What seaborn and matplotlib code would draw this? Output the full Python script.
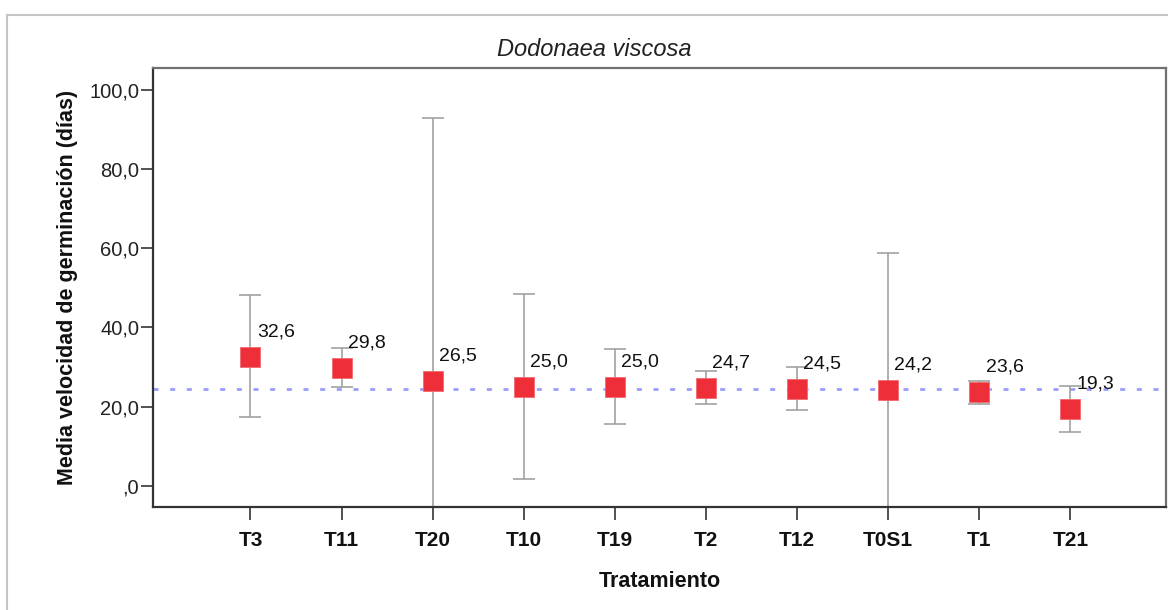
import matplotlib
matplotlib.use("Agg")
import matplotlib.pyplot as plt
import seaborn as sns
import pandas as pd
from matplotlib.patches import Rectangle
from matplotlib.ticker import FuncFormatter

# ---- data ----
tratamientos = ["T3", "T11", "T20", "T10", "T19", "T2", "T12", "T0S1", "T1", "T21"]
medias = [32.6, 29.8, 26.5, 25.0, 25.0, 24.7, 24.5, 24.2, 23.6, 19.3]
ic_inf = [17.3, 25.0, -40.0, 1.6, 15.6, 20.6, 19.1, -10.5, 20.6, 13.6]
ic_sup = [48.1, 34.9, 93.0, 48.5, 34.5, 29.0, 30.0, 58.9, 26.5, 25.2]
media_global = 24.4
y_ticks = [0, 20, 40, 60, 80, 100]

sns.set_theme(style="white")
plt.rcParams["font.family"] = ["Liberation Sans", "DejaVu Sans"]

df = pd.DataFrame({"Tratamiento": tratamientos, "Media": medias,
                   "lo": ic_inf, "hi": ic_sup})

fig = plt.figure(figsize=(11.68, 6.10), dpi=100)
ax = fig.add_axes([153 / 1168, 1 - 507 / 610, (1166 - 153) / 1168, (507 - 68) / 610])

# outer light frame
fig.patches.append(Rectangle((7 / 1168, -0.1), 1.2, 1 - 15 / 610 + 0.1,
                             transform=fig.transFigure, fill=False,
                             edgecolor="#c4c4c4", lw=1.5))

# reference line
ax.axhline(media_global, color="#9a9cff", lw=2.0, dashes=(1.8, 4.2), zorder=1)

# error bars
ax.errorbar(df["Tratamiento"], df["Media"],
            yerr=[df["Media"] - df["lo"], df["hi"] - df["Media"]],
            fmt="none", ecolor="#9a9a9a", elinewidth=1.1, capsize=8,
            capthick=1.1, zorder=2)

# markers
sns.scatterplot(data=df, x="Tratamiento", y="Media", marker="s", s=225,
                color="#ee2e38", edgecolor="#f26a70", linewidth=0.6,
                ax=ax, zorder=3, legend=False)

# value labels
for t, m in zip(df["Tratamiento"], df["Media"]):
    ax.annotate(f"{m:.1f}".replace(".", ","), xy=(t, m),
                xytext=(4.5, 18), textcoords="offset points",
                ha="left", va="center", fontsize=14, color="#111111")

ax.set_xlim(-1.07, 10.05)
ax.set_ylim(-5.4, 105.6)
ax.set_yticks(y_ticks)
ax.yaxis.set_major_formatter(FuncFormatter(
    lambda v, p: (f"{v:.1f}".replace(".", ",")) if v != 0 else ",0"))

ax.tick_params(axis="y", which="major", left=True, length=9, width=1.2,
               color="#333333", pad=1, labelsize=14.5, labelcolor="#222222")
ax.tick_params(axis="x", which="major", bottom=True, length=9, width=1.2,
               color="#333333", pad=8.5, labelsize=15, labelcolor="#111111")
for lab in ax.get_xticklabels():
    lab.set_fontweight("bold")

ax.set_xlabel("Tratamiento", fontsize=15.5, fontweight="bold", labelpad=15,
              color="#111111")
ax.set_ylabel("Media velocidad de germinación (días)", fontsize=15.5,
              fontweight="bold", color="#111111", labelpad=8)

for side in ["left", "bottom"]:
    ax.spines[side].set_color("#333333")
    ax.spines[side].set_linewidth(1.6)
for side in ["top", "right"]:
    ax.spines[side].set_color("#707070")
    ax.spines[side].set_linewidth(1.6)
ax.grid(False)

fig.text(594 / 1168, 1 - 49 / 610, "Dodonaea viscosa", ha="center",
         va="center", fontsize=17, fontstyle="italic", color="#222222")

fig.savefig("out.png", dpi=100)
